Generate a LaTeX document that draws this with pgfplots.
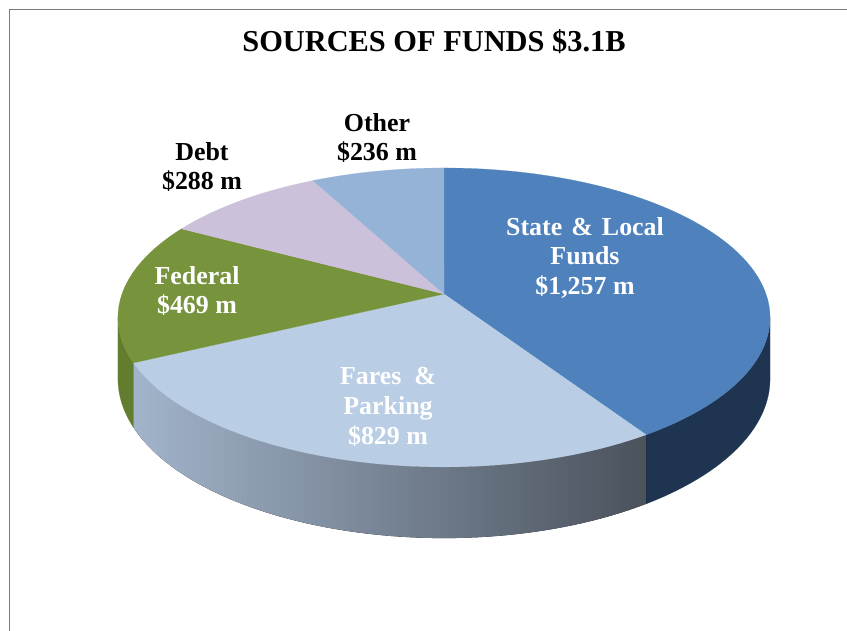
\documentclass[border=0pt]{standalone}
\usepackage{pgfplots}
\pgfplotsset{compat=1.18}
\usepackage{pgfplotstable}
\usepgfplotslibrary{fillbetween}
\usepackage{fontspec}
\setmainfont{Liberation Serif}
\definecolor{stateC}{HTML}{4F81BD}
\definecolor{stateS}{HTML}{1F3450}
\definecolor{faresC}{HTML}{B9CDE4}
\definecolor{faresL}{HTML}{A2B4CB}
\definecolor{faresR}{HTML}{4A525C}
\definecolor{fedC}{HTML}{77933C}
\definecolor{fedS}{HTML}{627D2E}
\definecolor{debtC}{HTML}{CCC1DA}
\definecolor{otherC}{HTML}{95B3D7}
\definecolor{frameC}{HTML}{7A7A7A}

\pgfplotstableread[col sep=comma]{
label,value
State,1257
Fares,829
Federal,469
Debt,288
Other,236
}\piedata
\pgfplotstablegetelem{0}{value}\of\piedata \let\vA\pgfplotsretval
\pgfplotstablegetelem{1}{value}\of\piedata \let\vB\pgfplotsretval
\pgfplotstablegetelem{2}{value}\of\piedata \let\vC\pgfplotsretval
\pgfplotstablegetelem{3}{value}\of\piedata \let\vD\pgfplotsretval
\pgfplotstablegetelem{4}{value}\of\piedata \let\vE\pgfplotsretval
\pgfmathsetmacro\tot{\vA+\vB+\vC+\vD+\vE}
\pgfmathsetmacro\aB{90-360*(\vA/\tot)}
\pgfmathsetmacro\aC{\aB-360*(\vB/\tot)}
\pgfmathsetmacro\aD{\aC-360*(\vC/\tot)}
\pgfmathsetmacro\aE{\aD-360*(\vD/\tot)}
\pgfmathsetmacro\aF{\aE-360*(\vE/\tot)}

\begin{document}%
\begin{tikzpicture}
\begin{axis}[
  x=1bp, y=1bp, xmin=0, xmax=847, ymin=0, ymax=631,
  hide axis, clip=false,
  declare function={
    ww(\t)=1+0.157*sin(\t);
    px(\t)=444+322*cos(\t)/ww(\t);
    py(\t)=337+145.8*sin(\t)/ww(\t);
    pyb(\t)=py(\t)-60/ww(\t);
  },
]
\coordinate (BL) at (axis cs:0,0);
\coordinate (TR) at (axis cs:847,631);
% ---- side walls
\addplot[draw=none, name path=sAt, domain=\aB:-9.03, samples=40] ({px(x)},{py(x)});
\addplot[draw=none, name path=sAb, domain=\aB:-9.03, samples=40] ({px(x)},{pyb(x)});
\addplot[fill=stateS, draw=stateS, line width=0.2pt] fill between[of=sAt and sAb];
\addplot[draw=none, name path=fAt, domain=\aC:\aB, samples=60] ({px(x)},{py(x)});
\addplot[draw=none, name path=fAb, domain=\aC:\aB, samples=60] ({px(x)},{pyb(x)});
\addplot[left color=faresL, right color=faresR, draw=none] fill between[of=fAt and fAb];
\addplot[draw=none, name path=gAt, domain=-170.97:\aC, samples=20] ({px(x)},{py(x)});
\addplot[draw=none, name path=gAb, domain=-170.97:\aC, samples=20] ({px(x)},{pyb(x)});
\addplot[fill=fedS, draw=fedS, line width=0.2pt] fill between[of=gAt and gAb];
% ---- top faces
\addplot[fill=stateC, draw=stateC, line width=0.2pt, domain=\aB:90, samples=80] ({px(x)},{py(x)}) -- (axis cs:444,337) -- cycle;
\addplot[fill=faresC, draw=faresC, line width=0.2pt, domain=\aC:\aB, samples=60] ({px(x)},{py(x)}) -- (axis cs:444,337) -- cycle;
\addplot[fill=fedC, draw=fedC, line width=0.2pt, domain=\aD:\aC, samples=40] ({px(x)},{py(x)}) -- (axis cs:444,337) -- cycle;
\addplot[fill=debtC, draw=debtC, line width=0.2pt, domain=\aE:\aD, samples=30] ({px(x)},{py(x)}) -- (axis cs:444,337) -- cycle;
\addplot[fill=otherC, draw=otherC, line width=0.2pt, domain=\aF:\aE, samples=30] ({px(x)},{py(x)}) -- (axis cs:444,337) -- cycle;
% ---- frame
\draw[frameC, line width=1.6bp] (axis cs:9.5,0) -- (axis cs:9.5,621.5) -- (axis cs:847,621.5);
% ---- texts
\node[font=\bfseries\fontsize{30.5}{34}\selectfont] at (axis cs:434,589) {SOURCES OF FUNDS \$3.1B};
\node[font=\bfseries\fontsize{26}{30}\selectfont, align=center] at (axis cs:377,493) {Other\\\$236 m};
\node[font=\bfseries\fontsize{26}{30}\selectfont, align=center] at (axis cs:202,464) {Debt\\\$288 m};
\node[font=\bfseries\fontsize{26}{30}\selectfont, align=center, white] at (axis cs:197,340) {Federal\\\$469 m};
\node[font=\bfseries\fontsize{26}{30}\selectfont, align=center, white] at (axis cs:585,373) {State\hspace{0.1em} \&\hspace{0.1em} Local\\Funds\\\$1,257 m};
\node[font=\bfseries\fontsize{26}{30}\selectfont, align=center, white] at (axis cs:388,224) {Fares\ \ \&\\Parking\\\$829 m};
\end{axis}
\pgfresetboundingbox
\path (BL) rectangle (TR);
\end{tikzpicture}%
\end{document}
